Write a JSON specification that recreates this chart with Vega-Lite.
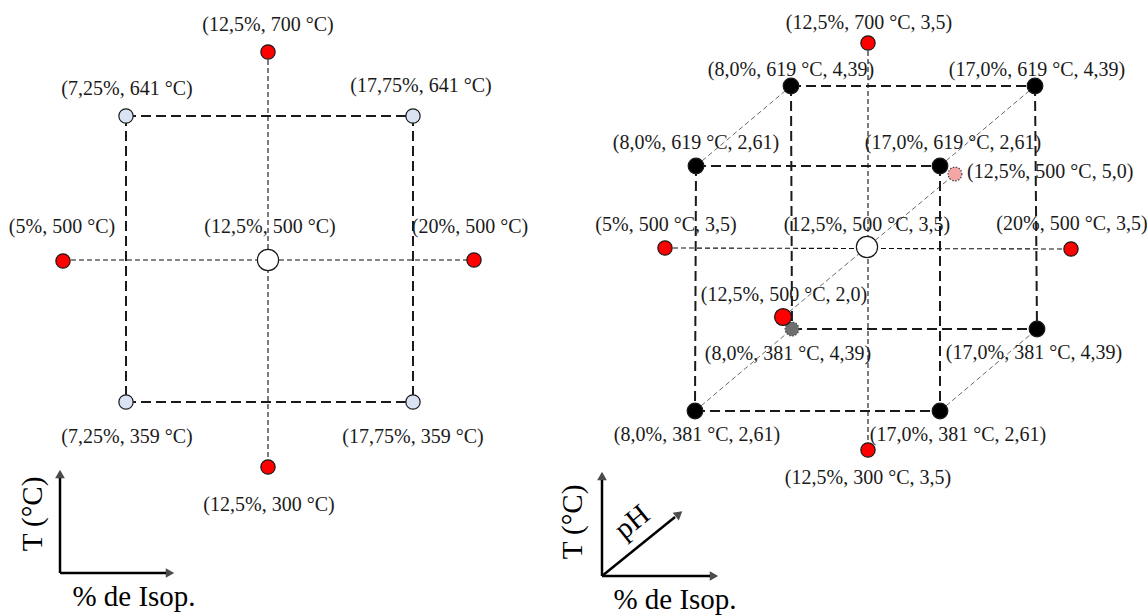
{
  "$schema": "https://vega.github.io/schema/vega-lite/v6.json",
  "width": 1147,
  "height": 615,
  "autosize": {"type": "none"},
  "padding": 0,
  "background": "white",
  "config": {"view": {"stroke": null}},
  "datasets": {
    "segments": [
      {"x": 126, "y": 116, "x2": 413, "y2": 116, "kind": "frame"},
      {"x": 413, "y": 116, "x2": 413, "y2": 402, "kind": "frame"},
      {"x": 126, "y": 402, "x2": 413, "y2": 402, "kind": "frame"},
      {"x": 126, "y": 116, "x2": 126, "y2": 402, "kind": "frame"},
      {"x": 63, "y": 260, "x2": 474, "y2": 260, "kind": "axis"},
      {"x": 268, "y": 52, "x2": 268, "y2": 467, "kind": "axis"},
      {"x": 696, "y": 166, "x2": 940, "y2": 166, "kind": "frame"},
      {"x": 940, "y": 166, "x2": 940, "y2": 411, "kind": "frame"},
      {"x": 695, "y": 411, "x2": 940, "y2": 411, "kind": "frame"},
      {"x": 696, "y": 166, "x2": 695, "y2": 411, "kind": "frame"},
      {"x": 791, "y": 86, "x2": 1035, "y2": 86, "kind": "frame"},
      {"x": 1035, "y": 86, "x2": 1037, "y2": 329, "kind": "frame"},
      {"x": 792, "y": 329, "x2": 1037, "y2": 329, "kind": "frame"},
      {"x": 791, "y": 86, "x2": 792, "y2": 329, "kind": "frame"},
      {"x": 696, "y": 166, "x2": 791, "y2": 86, "kind": "depth"},
      {"x": 940, "y": 166, "x2": 1035, "y2": 86, "kind": "depth"},
      {"x": 940, "y": 411, "x2": 1037, "y2": 329, "kind": "depth"},
      {"x": 695, "y": 411, "x2": 792, "y2": 329, "kind": "depth"},
      {"x": 783, "y": 317, "x2": 955, "y2": 174, "kind": "depth"},
      {"x": 665, "y": 248, "x2": 1071, "y2": 249, "kind": "axis"},
      {"x": 868, "y": 43, "x2": 868, "y2": 450, "kind": "axis"},
      {"x": 60, "y": 573, "x2": 60, "y2": 478, "kind": "arrow"},
      {"x": 60, "y": 573, "x2": 166, "y2": 573, "kind": "arrow"},
      {"x": 602, "y": 576, "x2": 602, "y2": 480, "kind": "arrow"},
      {"x": 602, "y": 576, "x2": 710, "y2": 576, "kind": "arrow"},
      {"x": 602, "y": 576, "x2": 675, "y2": 517, "kind": "arrow"}
    ],
    "heads": [
      {"x": 60, "y": 474, "dir": 0},
      {"x": 170, "y": 573, "dir": 90},
      {"x": 602, "y": 476, "dir": 0},
      {"x": 714, "y": 576, "dir": 90},
      {"x": 679, "y": 514, "dir": 51}
    ],
    "points": [
      {"x": 268, "y": 52, "kind": "red"},
      {"x": 126, "y": 116, "kind": "blue"},
      {"x": 413, "y": 116, "kind": "blue"},
      {"x": 63, "y": 261, "kind": "red"},
      {"x": 474, "y": 260, "kind": "red"},
      {"x": 268, "y": 260, "kind": "center"},
      {"x": 126, "y": 402, "kind": "blue"},
      {"x": 413, "y": 402, "kind": "blue"},
      {"x": 268, "y": 467, "kind": "red"},
      {"x": 868, "y": 43, "kind": "red"},
      {"x": 791, "y": 86, "kind": "black"},
      {"x": 1035, "y": 86, "kind": "black"},
      {"x": 696, "y": 166, "kind": "black"},
      {"x": 940, "y": 166, "kind": "black"},
      {"x": 695, "y": 411, "kind": "black"},
      {"x": 940, "y": 411, "kind": "black"},
      {"x": 1037, "y": 329, "kind": "black"},
      {"x": 665, "y": 248, "kind": "red"},
      {"x": 1071, "y": 249, "kind": "red"},
      {"x": 868, "y": 450, "kind": "red"},
      {"x": 867, "y": 247, "kind": "center"}
    ],
    "dotted": [
      {"x": 792, "y": 329, "kind": "gray"},
      {"x": 955, "y": 174, "kind": "pink"}
    ],
    "top": [
      {"x": 783, "y": 317, "kind": "redbig"}
    ],
    "labels": [
      {"x": 268, "y": 25, "t": "(12,5%, 700 °C)"},
      {"x": 127, "y": 89, "t": "(7,25%, 641 °C)"},
      {"x": 421, "y": 86, "t": "(17,75%, 641 °C)"},
      {"x": 62, "y": 227, "t": "(5%, 500 °C)"},
      {"x": 270, "y": 227, "t": "(12,5%, 500 °C)"},
      {"x": 470, "y": 227, "t": "(20%, 500 °C)"},
      {"x": 127, "y": 437, "t": "(7,25%, 359 °C)"},
      {"x": 413, "y": 437, "t": "(17,75%, 359 °C)"},
      {"x": 269, "y": 505, "t": "(12,5%, 300 °C)"},
      {"x": 869, "y": 23, "t": "(12,5%, 700 °C, 3,5)"},
      {"x": 791, "y": 70, "t": "(8,0%, 619 °C, 4,39)"},
      {"x": 1037, "y": 70, "t": "(17,0%, 619 °C, 4,39)"},
      {"x": 696, "y": 143, "t": "(8,0%, 619 °C, 2,61)"},
      {"x": 953, "y": 143, "t": "(17,0%, 619 °C, 2,61)"},
      {"x": 666, "y": 225, "t": "(5%, 500 °C, 3,5)"},
      {"x": 867, "y": 225, "t": "(12,5%, 500 °C, 3,5)"},
      {"x": 1072, "y": 224, "t": "(20%, 500 °C, 3,5)"},
      {"x": 784, "y": 295, "t": "(12,5%, 500 °C, 2,0)"},
      {"x": 788, "y": 354, "t": "(8,0%, 381 °C, 4,39)"},
      {"x": 1034, "y": 353, "t": "(17,0%, 381 °C, 4,39)"},
      {"x": 697, "y": 435, "t": "(8,0%, 381 °C, 2,61)"},
      {"x": 958, "y": 435, "t": "(17,0%, 381 °C, 2,61)"},
      {"x": 868, "y": 478, "t": "(12,5%, 300 °C, 3,5)"}
    ],
    "leftlabels": [
      {"x": 967, "y": 172, "t": "(12,5%, 500 °C, 5,0)"}
    ],
    "titles": [
      {"x": 134, "y": 597, "t": "% de Isop."},
      {"x": 675, "y": 600, "t": "% de Isop."}
    ],
    "vtitles": [
      {"x": 33, "y": 514, "t": "T (°C)"},
      {"x": 573, "y": 522, "t": "T (°C)"}
    ],
    "phtitle": [
      {"x": 632, "y": 522, "t": "pH"}
    ]
  },
  "encoding": {
    "x": {"field": "x", "type": "quantitative", "scale": {"domain": [0, 1147], "nice": false, "zero": false}, "axis": null},
    "y": {"field": "y", "type": "quantitative", "scale": {"domain": [0, 615], "nice": false, "zero": false, "reverse": true}, "axis": null}
  },
  "layer": [
    {
      "data": {"name": "segments"},
      "transform": [{"filter": "datum.kind == 'depth'"}],
      "mark": {"type": "rule", "stroke": "#6a6a6a", "strokeWidth": 1, "strokeDash": [5, 3]},
      "encoding": {"x2": {"field": "x2"}, "y2": {"field": "y2"}}
    },
    {
      "data": {"name": "segments"},
      "transform": [{"filter": "datum.kind == 'axis'"}],
      "mark": {"type": "rule", "stroke": "#111111", "strokeWidth": 1.1, "strokeDash": [5, 3]},
      "encoding": {"x2": {"field": "x2"}, "y2": {"field": "y2"}}
    },
    {
      "data": {"name": "segments"},
      "transform": [{"filter": "datum.kind == 'frame'"}],
      "mark": {"type": "rule", "stroke": "#1a1a1a", "strokeWidth": 2, "strokeDash": [10, 5]},
      "encoding": {"x2": {"field": "x2"}, "y2": {"field": "y2"}}
    },
    {
      "data": {"name": "segments"},
      "transform": [{"filter": "datum.kind == 'arrow'"}],
      "mark": {"type": "rule", "stroke": "#000000", "strokeWidth": 2.5},
      "encoding": {"x2": {"field": "x2"}, "y2": {"field": "y2"}}
    },
    {
      "data": {"name": "heads"},
      "mark": {"type": "point", "shape": "triangle-up", "filled": true, "color": "#000000", "size": 95},
      "encoding": {"angle": {"field": "dir", "type": "quantitative", "scale": null}}
    },
    {
      "data": {"name": "dotted"},
      "mark": {"type": "point", "filled": true, "shape": "circle", "stroke": "#444444", "strokeWidth": 1.2, "strokeDash": [1.5, 1.5], "opacity": 1},
      "encoding": {
        "fill": {"field": "kind", "type": "nominal", "scale": {"domain": ["red", "blue", "center", "black", "redbig", "gray", "pink"], "range": ["#FF0000", "#DAE3F3", "#FFFFFF", "#000000", "#FF0000", "#6E6E6E", "#F4A6A6"]}, "legend": null},
        "size": {"field": "kind", "type": "nominal", "scale": {"type": "ordinal", "domain": ["red", "blue", "center", "black", "redbig", "gray", "pink"], "range": [205, 205, 450, 245, 285, 190, 190]}, "legend": null}
      }
    },
    {
      "data": {"name": "points"},
      "mark": {"type": "point", "filled": true, "shape": "circle", "stroke": "#1a1a1a", "strokeWidth": 1.2, "opacity": 1},
      "encoding": {
        "fill": {"field": "kind", "type": "nominal", "scale": {"domain": ["red", "blue", "center", "black", "redbig", "gray", "pink"], "range": ["#FF0000", "#DAE3F3", "#FFFFFF", "#000000", "#FF0000", "#6E6E6E", "#F4A6A6"]}, "legend": null},
        "size": {"field": "kind", "type": "nominal", "scale": {"type": "ordinal", "domain": ["red", "blue", "center", "black", "redbig", "gray", "pink"], "range": [205, 205, 450, 245, 285, 190, 190]}, "legend": null}
      }
    },
    {
      "data": {"name": "top"},
      "mark": {"type": "point", "filled": true, "shape": "circle", "stroke": "#1a1a1a", "strokeWidth": 1.2, "opacity": 1},
      "encoding": {
        "fill": {"field": "kind", "type": "nominal", "scale": {"domain": ["red", "blue", "center", "black", "redbig", "gray", "pink"], "range": ["#FF0000", "#DAE3F3", "#FFFFFF", "#000000", "#FF0000", "#6E6E6E", "#F4A6A6"]}, "legend": null},
        "size": {"field": "kind", "type": "nominal", "scale": {"type": "ordinal", "domain": ["red", "blue", "center", "black", "redbig", "gray", "pink"], "range": [205, 205, 450, 245, 285, 190, 190]}, "legend": null}
      }
    },
    {
      "data": {"name": "labels"},
      "mark": {"type": "text", "font": "Liberation Serif", "fontSize": 20, "color": "#1a1a1a", "align": "center", "baseline": "middle"},
      "encoding": {"text": {"field": "t"}}
    },
    {
      "data": {"name": "leftlabels"},
      "mark": {"type": "text", "font": "Liberation Serif", "fontSize": 20, "color": "#1a1a1a", "align": "left", "baseline": "middle"},
      "encoding": {"text": {"field": "t"}}
    },
    {
      "data": {"name": "titles"},
      "mark": {"type": "text", "font": "Liberation Serif", "fontSize": 29, "color": "#000000", "align": "center", "baseline": "middle"},
      "encoding": {"text": {"field": "t"}}
    },
    {
      "data": {"name": "vtitles"},
      "mark": {"type": "text", "font": "Liberation Serif", "fontSize": 29, "color": "#000000", "align": "center", "baseline": "middle", "angle": 270},
      "encoding": {"text": {"field": "t"}}
    },
    {
      "data": {"name": "phtitle"},
      "mark": {"type": "text", "font": "Liberation Serif", "fontSize": 29, "color": "#000000", "align": "center", "baseline": "middle", "angle": 321},
      "encoding": {"text": {"field": "t"}}
    }
  ]
}
